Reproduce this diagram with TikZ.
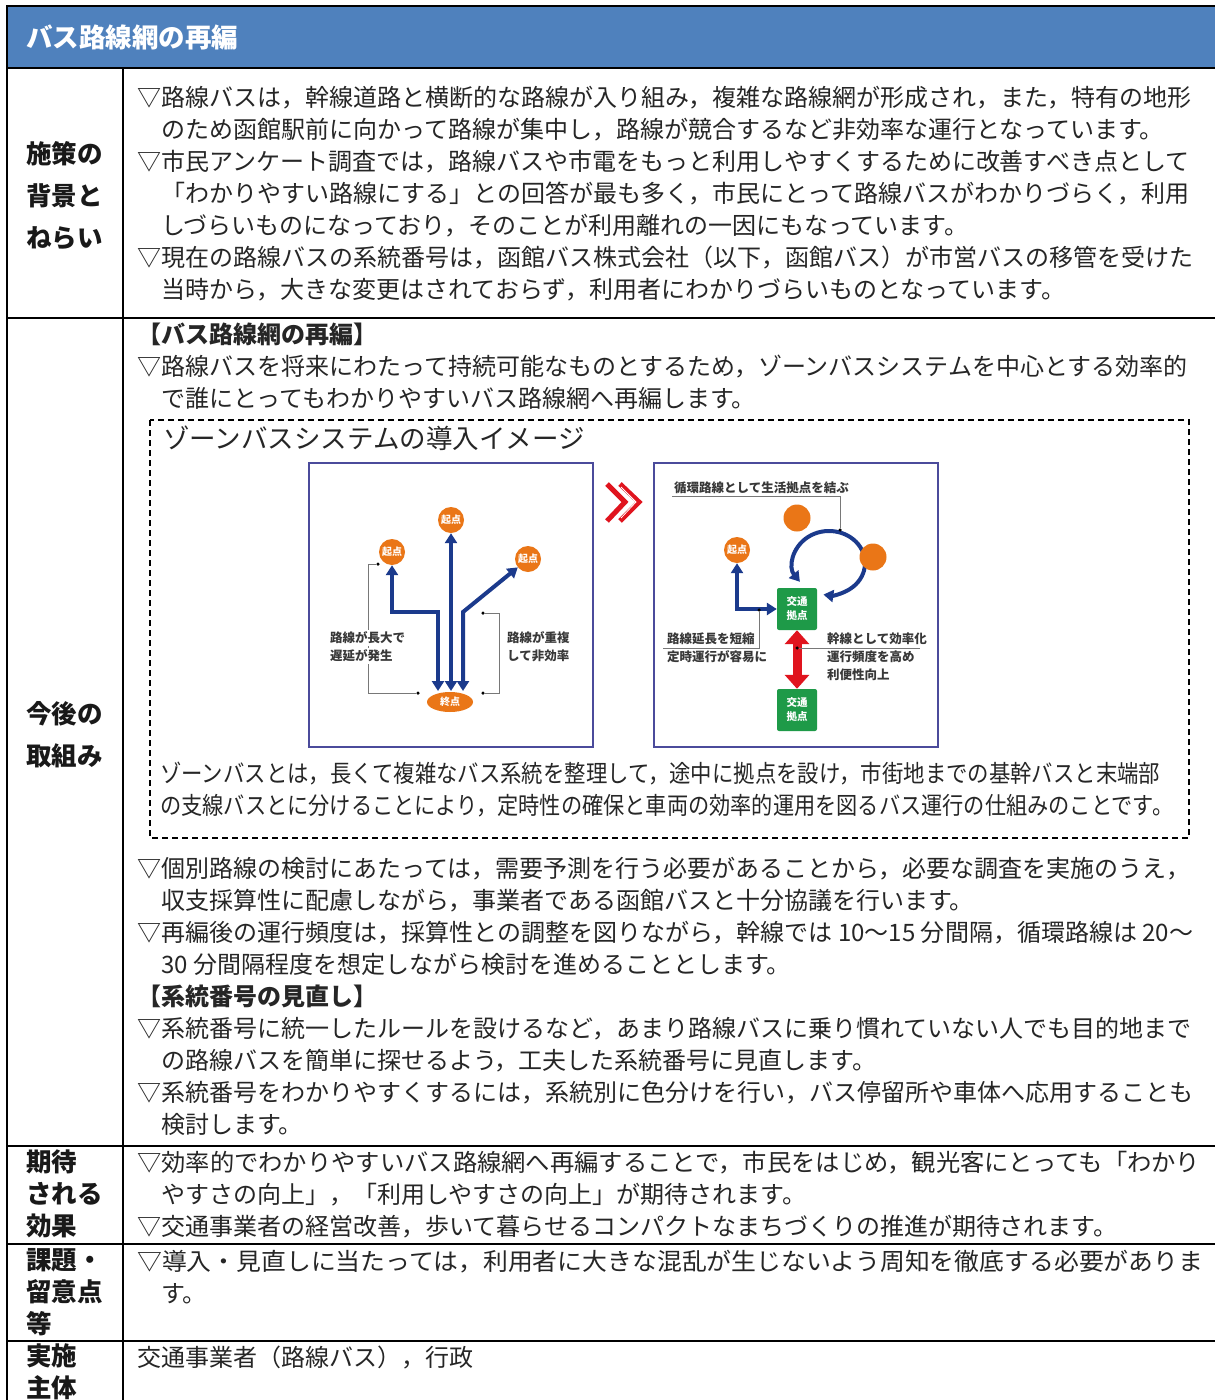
\documentclass[tikz,border=0pt]{standalone}
\usepackage{fontspec}
\setmainfont{Noto Sans CJK JP}
\usepackage{graphicx}
\usetikzlibrary{arrows.meta,shapes.geometric}
\definecolor{hdr}{RGB}{79,129,189}
\definecolor{navy}{RGB}{27,58,140}
\definecolor{orng}{RGB}{234,118,23}
\definecolor{grn}{RGB}{30,154,72}
\definecolor{rred}{RGB}{224,20,30}
\definecolor{frm}{RGB}{75,75,155}
\definecolor{gln}{RGB}{120,120,120}
\begin{document}
\begin{tikzpicture}[x=1pt,y=-1pt,
  body/.style={anchor=west, inner sep=0pt, text height=20pt, text depth=4pt, font=\fontsize{24}{28}\selectfont, text=black!85},
  lbl/.style={anchor=west, inner sep=0pt, text height=21pt, text depth=4pt, font=\fontsize{25.5}{28}\selectfont\bfseries, text=black!90},
  small/.style={anchor=west, inner sep=0pt, font=\fontsize{12.5}{14}\selectfont\bfseries, text=black!78},
  ocirc/.style={circle, fill=orng, minimum size=26pt, inner sep=0pt, text=white, font=\fontsize{10}{10}\selectfont\bfseries},
  hub/.style={rectangle, rounded corners=2pt, fill=grn, minimum width=40pt, minimum height=42pt, inner sep=0pt, text=white, font=\fontsize{10.5}{14}\selectfont\bfseries, align=center},
  barrow/.style={navy, line width=4pt, {Triangle[width=12pt,length=10pt]}-{Triangle[width=12pt,length=10pt]}},
  gline/.style={gln, line width=0.9pt},
  dot/.style={circle, fill=black, inner sep=0pt, minimum size=3.5pt},
  rule/.style={black, line width=2.2pt},
  imgframe/.style={draw=frm, line width=1.2pt}
]
\useasboundingbox (0,0) rectangle (1215,1400);
\clip (0,0) rectangle (1215,1400);
\fill[white] (0,0) rectangle (1215,1400);

% ---------- table frame ----------
\fill[hdr] (7,6) rectangle (1216,68);
\draw[rule] (7,6) -- (1216,6);
\draw[rule] (7,5) -- (7,1401);
\draw[rule] (7,68) -- (1216,68);
\draw[rule] (123,68) -- (123,1401);
\draw[rule] (7,318) -- (1216,318);
\draw[rule] (7,1146) -- (1216,1146);
\draw[rule] (7,1244) -- (1216,1244);
\draw[rule] (7,1341) -- (1216,1341);

\node[anchor=west, inner sep=0pt, font=\fontsize{26.5}{28}\selectfont\bfseries, text=white] (title) at (26,37) {バス路線網の再編};

% ---------- left labels ----------
\node[lbl] (L1a) at (26,155) {施策の};
\node[lbl] (L1b) at (26,197) {背景と};
\node[lbl] (L1c) at (26,239) {ねらい};
\node[lbl] (L2a) at (26,715) {今後の};
\node[lbl] (L2b) at (26,757) {取組み};
\node[lbl] (L3a) at (26,1163) {期待};
\node[lbl] (L3b) at (26,1195) {される};
\node[lbl] (L3c) at (26,1227) {効果};
\node[lbl] (L4a) at (26,1261) {課題・};
\node[lbl] (L4b) at (26,1293) {留意点};
\node[lbl] (L4c) at (26,1325) {等};
\node[lbl] (L5a) at (26,1357) {実施};
\node[lbl] (L5b) at (26,1389) {主体};

% ---------- section 1 ----------
\node[body] (a1) at (137,98) {▽路線バスは，幹線道路と横断的な路線が入り組み，複雑な路線網が形成され，また，特有の地形};
\node[body] (a2) at (161,130) {のため函館駅前に向かって路線が集中し，路線が競合するなど非効率な運行となっています。};
\node[body] (a3) at (137,162) {▽市民アンケート調査では，路線バスや市電をもっと利用しやすくするために改善すべき点として};
\node[body] (a4) at (161,194) {「わかりやすい路線にする」との回答が最も多く，市民にとって路線バスがわかりづらく，利用};
\node[body] (a5) at (161,226) {しづらいものになっており，そのことが利用離れの一因にもなっています。};
\node[body] (a6) at (137,258) {▽現在の路線バスの系統番号は，函館バス株式会社（以下，函館バス）が市営バスの移管を受けた};
\node[body] (a7) at (161,290) {当時から，大きな変更はされておらず，利用者にわかりづらいものとなっています。};

% ---------- section 2 ----------
\node[body, font=\fontsize{24}{28}\selectfont\bfseries] (b0) at (137,335) {【バス路線網の再編】};
\node[body] (b1) at (137,367) {▽路線バスを将来にわたって持続可能なものとするため，ゾーンバスシステムを中心とする効率的};
\node[body] (b2) at (161,399) {で誰にとってもわかりやすいバス路線網へ再編します。};

\draw[black, line width=1.3pt, dash pattern=on 6pt off 4pt] (150,420) rectangle (1189,838);
\node[anchor=west, inner sep=0pt, font=\fontsize{26.5}{28}\selectfont, text=black!85] (zt) at (163,438) {ゾーンバスシステムの導入イメージ};
\node[body] (z1) at (160,774) {\resizebox{1000pt}{\height}{ゾーンバスとは，長くて複雑なバス系統を整理して，途中に拠点を設け，市街地までの基幹バスと末端部}};
\node[body] (z2) at (160,806) {\resizebox{1013pt}{\height}{の支線バスとに分けることにより，定時性の確保と車両の効率的運用を図るバス運行の仕組みのことです。}};

\node[body] (b3) at (137,869) {▽個別路線の検討にあたっては，需要予測を行う必要があることから，必要な調査を実施のうえ，};
\node[body] (b4) at (161,901) {収支採算性に配慮しながら，事業者である函館バスと十分協議を行います。};
\node[body] (b5) at (137,933) {\resizebox{1056pt}{\height}{▽再編後の運行頻度は，採算性との調整を図りながら，幹線では 10〜15 分間隔，循環路線は 20〜}};
\node[body] (b6) at (161,965) {30 分間隔程度を想定しながら検討を進めることとします。};
\node[body, font=\fontsize{24}{28}\selectfont\bfseries] (b7) at (137,997) {【系統番号の見直し】};
\node[body] (b8) at (137,1029) {▽系統番号に統一したルールを設けるなど，あまり路線バスに乗り慣れていない人でも目的地まで};
\node[body] (b9) at (161,1061) {の路線バスを簡単に探せるよう，工夫した系統番号に見直します。};
\node[body] (b10) at (137,1093) {▽系統番号をわかりやすくするには，系統別に色分けを行い，バス停留所や車体へ応用することも};
\node[body] (b11) at (161,1125) {検討します。};

% ---------- section 3-5 ----------
\node[body] (c1) at (137,1163) {\resizebox{1063pt}{\height}{▽効率的でわかりやすいバス路線網へ再編することで，市民をはじめ，観光客にとっても「わかり}};
\node[body] (c2) at (161,1195) {やすさの向上」，「利用しやすさの向上」が期待されます。};
\node[body] (c3) at (137,1227) {▽交通事業者の経営改善，歩いて暮らせるコンパクトなまちづくりの推進が期待されます。};
\node[body] (d1) at (137,1262) {\resizebox{1066pt}{\height}{▽導入・見直しに当たっては，利用者に大きな混乱が生じないよう周知を徹底する必要がありま}};
\node[body] (d2) at (161,1294) {す。};
\node[body] (e1) at (137,1358) {交通事業者（路線バス），行政};

% ---------- left image ----------
\draw[imgframe] (309,463) rectangle (593,747);
\node[ocirc] (s1) at (392,552) {起点};
\node[ocirc] (s2) at (451,520) {起点};
\node[ocirc] (s3) at (528,559) {起点};
\node[ellipse, fill=orng, minimum width=46pt, minimum height=20pt, inner sep=0pt, text=white, font=\fontsize{10}{10}\selectfont\bfseries] (end) at (450,702) {終点};
\coordinate (lb) at (438,691);
\coordinate (lc1) at (438,612);
\coordinate (lc2) at (392,612);
\coordinate (cb) at (451,691);
\coordinate (rb) at (463,691);
\coordinate (rc) at (463,612);
\draw[barrow] (lb) -- (lc1) -- (lc2) -- (s1.south);
\draw[barrow] (cb) -- (s2.south);
\draw[barrow] (rb) -- (rc) -- (s3);
\node[dot] (dl1) at (378,564) {};
\node[dot] (dl2) at (418,693) {};
\coordinate (bl1) at (368,564);
\coordinate (bl2) at (368,693);
\draw[gline] (dl1) -- (bl1) -- (bl2) -- (dl2);
\node[dot] (dr1) at (483,613) {};
\node[dot] (dr2) at (483,693) {};
\coordinate (br1) at (499,613);
\coordinate (br2) at (499,693);
\draw[gline] (dr1) -- (br1) -- (br2) -- (dr2);
\node[small, fill=white, inner sep=1.5pt] (tl1) at (328.5,638) {路線が長大で};
\node[small, fill=white, inner sep=1.5pt] (tl2) at (328.5,656) {遅延が発生};
\node[small] (tr1) at (507,638) {路線が重複};
\node[small] (tr2) at (507,656) {して非効率};

% ---------- chevrons ----------
\draw[rred, line width=5pt, line join=miter] (607,484) -- (625,502) -- (607,521);
\draw[rred, line width=5pt, line join=miter] (620,484) -- (639,502) -- (620,521);
\draw[white, line width=0.8pt] (621,487) -- (636,502) -- (621,518);

% ---------- right image ----------
\draw[imgframe] (654,463) rectangle (938,747);
\draw[barrow] (799.9,581.8) arc[start angle=144, end angle=459, x radius=36, y radius=32];
\node[ocirc, minimum size=27pt] (o1) at (797,518) {};
\node[ocirc, minimum size=27pt] (o2) at (873,557) {};
\node[ocirc] (s4) at (737,550) {起点};
\node[hub] (h1) at (797,609) {交通\\拠点};
\node[hub] (h2) at (797,710) {交通\\拠点};
\draw[barrow] (s4.south) -- (s4.south |- h1.west) -- (h1.west);
\draw[rred, line width=9pt, {Triangle[width=24pt,length=14pt]}-{Triangle[width=24pt,length=14pt]}] (h1.south) -- (h2.north);

\node[small] (tc) at (674,488) {循環路線として生活拠点を結ぶ};
\coordinate (gc1) at (672,496);
\coordinate (gc2) at (840,496);
\node[dot] (gcd) at (840,530) {};
\draw[gline] (gc1) -- (gc2) -- (gcd);

\node[dot] (gld) at (759,610) {};
\coordinate (gl1) at (759,648);
\coordinate (gl2) at (663,648);
\draw[gline] (gld) -- (gl1) -- (gl2);
\node[small] (tk1) at (667,639) {路線延長を短縮};
\node[small] (tk2) at (667,657) {定時運行が容易に};

\node[dot] (grd) at (797,648) {};
\coordinate (gr1) at (920,648);
\draw[gline] (grd) -- (gr1);
\node[small] (tm1) at (827,639) {幹線として効率化};
\node[small] (tm2) at (827,657) {運行頻度を高め};
\node[small] (tm3) at (827,675) {利便性向上};
\end{tikzpicture}
\end{document}
